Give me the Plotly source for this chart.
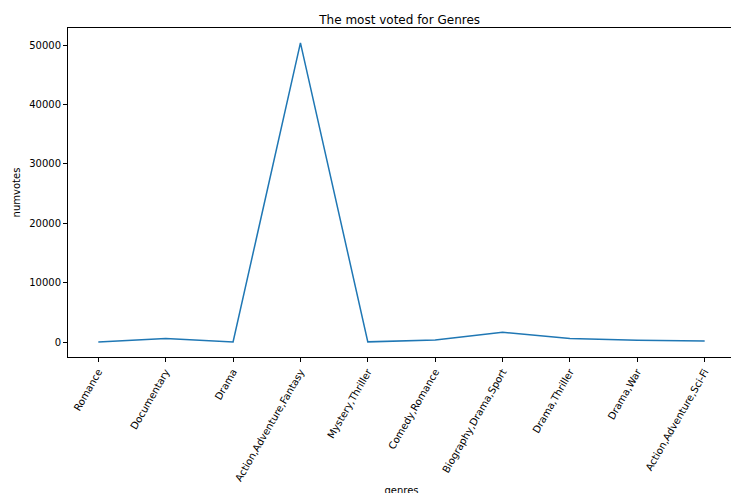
import plotly.graph_objects as go

genres = ["Romance", "Documentary", "Drama", "Action,Adventure,Fantasy", "Mystery,Thriller",
          "Comedy,Romance", "Biography,Drama,Sport", "Drama,Thriller", "Drama,War",
          "Action,Adventure,Sci-Fi"]
numvotes = [30, 600, 40, 50400, 50, 350, 1650, 600, 300, 200]
yticks = [0, 10000, 20000, 30000, 40000, 50000]

fig = go.Figure(go.Scatter(x=list(range(len(genres))), y=numvotes, mode="lines",
                           line=dict(color="#1f77b4", width=1.5)))

ax = dict(showline=True, mirror=True, linecolor="black", linewidth=1, showgrid=False,
          zeroline=False, ticks="outside", ticklen=4, tickcolor="black", automargin=False)
fig.update_xaxes(ax, tickmode="array", tickvals=list(range(len(genres))), ticktext=genres,
                 tickangle=-60, range=[-0.45, 9.45],
                 title=dict(text="genres", standoff=4, font=dict(size=10)))
fig.update_yaxes(ax, range=[-2500, 52900], tickmode="array", tickvals=yticks,
                 ticktext=[str(v) for v in yticks],
                 title=dict(text="numvotes", standoff=6, font=dict(size=10)))
fig.update_layout(width=739, height=493, margin=dict(l=60, r=12, t=20, b=144),
                  plot_bgcolor="white", paper_bgcolor="white",
                  font=dict(family="DejaVu Sans", size=10, color="black"),
                  title=dict(text="The most voted for Genres", x=0.53, y=0.985,
                             xanchor="center", yanchor="top", font=dict(size=12)),
                  showlegend=False)
fig.write_html("out.html")
